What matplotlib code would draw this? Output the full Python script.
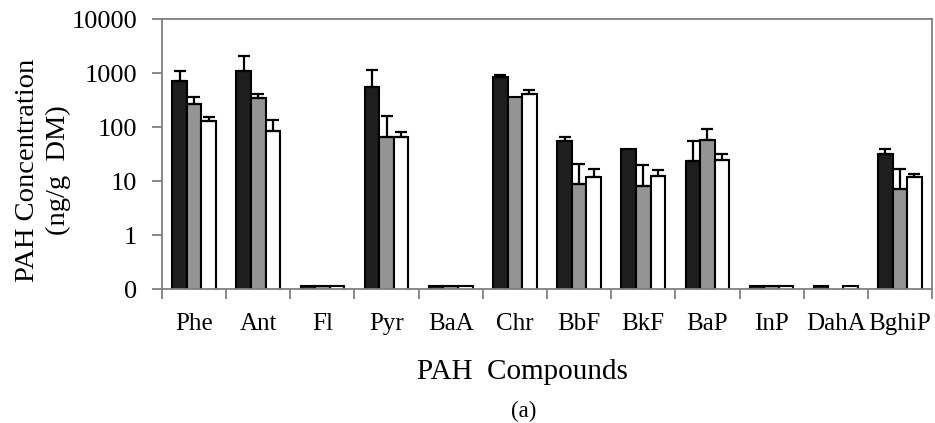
import numpy as np
import matplotlib
matplotlib.use("Agg")
import matplotlib.pyplot as plt

categories = ["Phe", "Ant", "Fl", "Pyr", "BaA", "Chr", "BbF", "BkF", "BaP", "InP", "DahA", "BghiP"]
s1_vals = [710, 1090, 0.115, 560, 0.115, 850, 56, 39, 23.4, 0.115, 0.115, 31.6]
s1_err = [380, 950, 0, 580, 0, 60, 10, 0, 32.6, 0, 0, 8.4]
s2_vals = [263, 348, 0.115, 65, 0.115, 363, 8.7, 8.3, 59, 0.115, np.nan, 7.3]
s2_err = [100, 70, 0, 95, 0, 0, 11.8, 11.7, 32, 0, 0, 9.7]
s3_vals = [129, 85, 0.115, 65, 0.115, 407, 12, 12.6, 25, 0.115, 0.115, 12]
s3_err = [26, 49, 0, 17, 0, 83, 4.6, 3.8, 7, 0, 0, 1.8]
ytick_vals = [0.1, 1, 10, 100, 1000, 10000]
ytick_labels = ["0", "1", "10", "100", "1000", "10000"]

plt.rcParams['font.family'] = ['Liberation Serif', 'DejaVu Serif']

fig = plt.figure(figsize=(9.35, 4.23), dpi=100)
ax = fig.add_axes([162/935, 1-289.3/423, (932-162)/935, (289.3-19)/423])

x = np.arange(len(categories))
w = 0.227
series = [(s1_vals, s1_err, "#1e1e1e"), (s2_vals, s2_err, "#949494"), (s3_vals, s3_err, "#ffffff")]
for i, (vals, errs, col) in enumerate(series):
    xs = x + (i - 1) * w
    v = np.array(vals, dtype=float)
    e = np.array(errs, dtype=float)
    ax.bar(xs, v, width=w, color=col, edgecolor="black", linewidth=1.5, zorder=2)
    m = e > 0
    ax.errorbar(xs[m], v[m], yerr=[np.zeros(m.sum()), e[m]], fmt="none",
                ecolor="black", elinewidth=1.6, capsize=4.3, capthick=1.6, zorder=3)

ax.set_yscale("log")
ax.set_ylim(0.1, 10000)
ax.set_xlim(-0.5, len(categories) - 0.5)
ax.set_yticks(ytick_vals)
ax.set_yticklabels(ytick_labels)
ax.yaxis.set_minor_locator(matplotlib.ticker.NullLocator())

ax.set_xticks(x)
ax.set_xticklabels(categories)
ax.set_xticks(np.arange(len(categories) + 1) - 0.5, minor=True)
ax.tick_params(axis="x", which="major", length=0, pad=17, labelsize=18)
ax.tick_params(axis="x", which="minor", length=7, width=1.3, color="#7f7f7f", direction="out")
ax.tick_params(axis="y", which="major", length=7, width=1.3, color="#7f7f7f", direction="out", pad=11, labelsize=19)

for s in ax.spines.values():
    s.set_color("#7f7f7f")
    s.set_linewidth(1.3)

fig.text(43/935, 1-170/423, "PAH Concentration\n(ng/g  DM)", rotation=90, ha="center", va="center",
         multialignment="center", fontsize=20.5, linespacing=1.3)
fig.text(522/935, 1-372/423, "PAH  Compounds", ha="center", va="center", fontsize=21)
fig.text(524/935, 1-411/423, "(a)", ha="center", va="center", fontsize=16.5)

fig.savefig("out.png", dpi=100)
